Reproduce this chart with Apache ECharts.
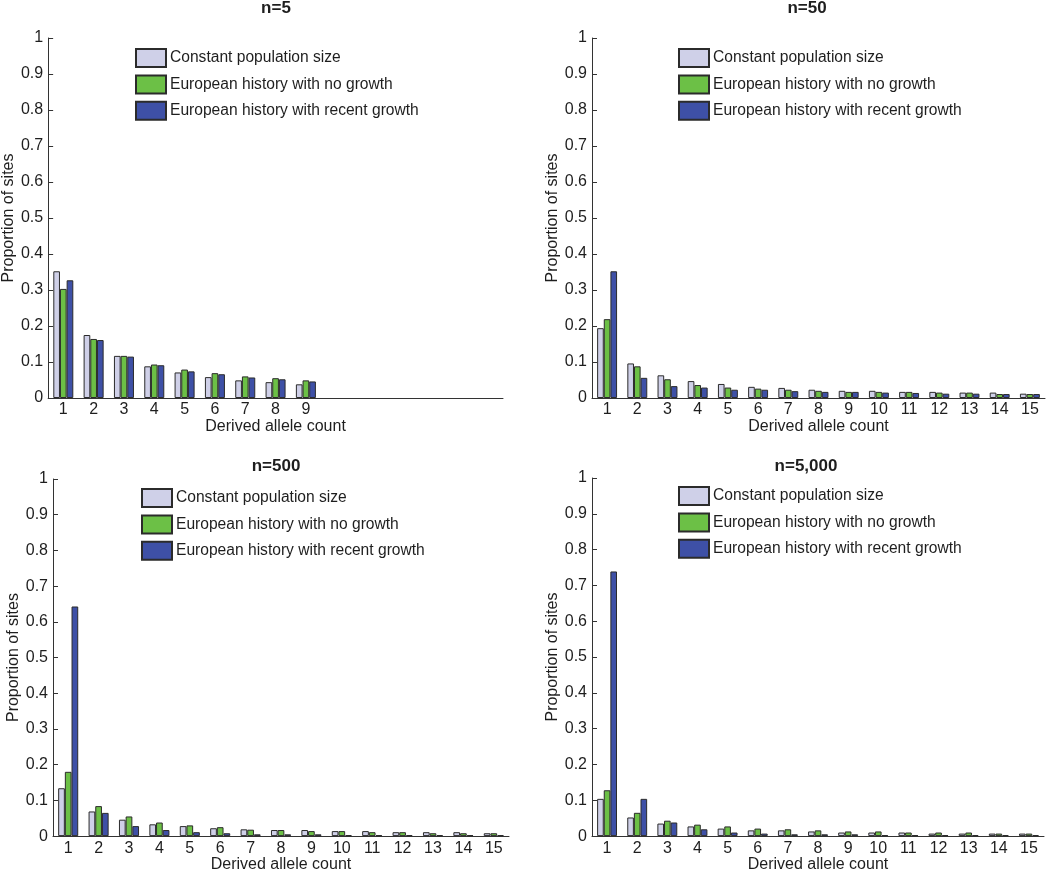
<!DOCTYPE html>
<html>
<head>
<meta charset="utf-8">
<script src="https://cdn.jsdelivr.net/npm/echarts@6/dist/echarts.min.js"></script>
<style>html,body{margin:0;padding:0;background:#fff;}#c{width:1050px;height:874px;}</style>
</head>
<body>
<div id="c"></div>
<script>
// ---- data ----
const categories = ['1','2','3','4','5','6','7','8','9','10','11','12','13','14','15'];
const seriesNames = ['Constant population size','European history with no growth','European history with recent growth'];
const panelTitles = ['n=5','n=50','n=500','n=5,000'];

const n5_constant = [0.352,0.175,0.117,0.088,0.071,0.058,0.049,0.044,0.038];
const n5_noGrowth = [0.303,0.164,0.117,0.093,0.079,0.069,0.060,0.055,0.049];
const n5_growth   = [0.327,0.161,0.115,0.091,0.074,0.066,0.057,0.052,0.046];

const n50_constant = [0.194,0.096,0.063,0.047,0.039,0.031,0.028,0.023,0.020,0.020,0.017,0.017,0.015,0.015,0.012];
const n50_noGrowth = [0.219,0.088,0.052,0.036,0.029,0.026,0.023,0.020,0.017,0.017,0.017,0.015,0.015,0.011,0.011];
const n50_growth   = [0.352,0.056,0.033,0.029,0.023,0.023,0.019,0.017,0.017,0.015,0.014,0.012,0.012,0.011,0.011];

const n500_constant = [0.134,0.069,0.046,0.033,0.028,0.022,0.019,0.017,0.017,0.014,0.014,0.011,0.011,0.011,0.008];
const n500_noGrowth = [0.180,0.084,0.055,0.038,0.030,0.025,0.018,0.017,0.014,0.014,0.011,0.011,0.008,0.008,0.008];
const n500_growth   = [0.643,0.065,0.028,0.017,0.011,0.008,0.005,0.005,0.005,0.003,0.003,0.003,0.003,0.003,0.003];

const n5000_constant = [0.104,0.052,0.035,0.027,0.021,0.016,0.016,0.013,0.010,0.010,0.010,0.007,0.007,0.007,0.007];
const n5000_noGrowth = [0.128,0.065,0.043,0.032,0.027,0.021,0.019,0.016,0.013,0.013,0.010,0.010,0.010,0.007,0.007];
const n5000_growth   = [0.739,0.104,0.038,0.019,0.010,0.007,0.005,0.005,0.005,0.003,0.003,0.003,0.003,0.003,0.003];

const panelData = [
  [n5_constant, n5_noGrowth, n5_growth],
  [n50_constant, n50_noGrowth, n50_growth],
  [n500_constant, n500_noGrowth, n500_growth],
  [n5000_constant, n5000_noGrowth, n5000_growth]
];

// ---- layout / style ----
const colors = ['#cfd0e8','#6cc046','#3e50a6'];
const FONT = '"Liberation Sans", Arial, sans-serif';
const TXT = '#1e1e1e';
const grids = [
  {left:47, top:38, width:456, height:360},
  {left:592, top:38, width:453, height:360},
  {left:53, top:479, width:456, height:360},
  {left:592, top:478, width:452, height:359}
];
const titlePos = [{x:276,y:0},{x:807,y:0},{x:276,y:458},{x:806,y:458}];
const legendPos = [{x:135,y:48},{x:678,y:48},{x:141,y:488},{x:678,y:486}];

const option = {
  backgroundColor:'#fff',
  animation:false,
  title: panelTitles.map((t,i)=>({
    text:t, left:titlePos[i].x, top:titlePos[i].y, textAlign:'center', padding:0,
    textStyle:{fontFamily:FONT,fontWeight:'bold',fontSize:17,color:TXT}
  })),
  legend: legendPos.map(p=>({
    data:seriesNames, orient:'vertical', left:p.x, top:p.y, padding:0,
    itemWidth:30, itemHeight:18, itemGap:6.4, icon:'rect',
    selectedMode:false,
    textStyle:{fontFamily:FONT,fontSize:15.6,color:TXT,padding:[0,0,0,-1]}
  })),
  grid: grids.map(g=>Object.assign({containLabel:false}, g)),
  xAxis: grids.map((g,i)=>({
    type:'category', gridIndex:i, data:categories,
    name:'Derived allele count', nameLocation:'middle', nameGap:19,
    nameTextStyle:{fontFamily:FONT,fontSize:16,color:TXT},
    axisLine:{lineStyle:{color:'#333',width:1}},
    axisTick:{show:false},
    axisLabel:{interval:0, margin:4, fontFamily:FONT, fontSize:16, color:TXT,
      formatter:(v,idx)=> idx < panelData[i][0].length ? v : ''}
  })),
  yAxis: grids.map((g,i)=>({
    type:'value', gridIndex:i, min:0, max:1, interval:0.1,
    name:'Proportion of sites', nameLocation:'middle', nameGap:30,
    nameTextStyle:{fontFamily:FONT,fontSize:16,color:TXT},
    axisLine:{show:true,lineStyle:{color:'#333',width:1}},
    axisTick:{show:true,inside:true,length:5,lineStyle:{color:'#333'}},
    splitLine:{show:false},
    axisLabel:{margin:5,fontFamily:FONT,fontSize:16,color:TXT}
  })),
  series: []
};

panelData.forEach((arrs,pi)=>{
  arrs.forEach((arr,si)=>{
    option.series.push({
      type:'bar', name:seriesNames[si], xAxisIndex:pi, yAxisIndex:pi,
      data:arr, barGap:'0%', barCategoryGap:'34%',
      itemStyle:{color:colors[si], borderColor:'#2b2b2b', borderWidth:1},
      emphasis:{disabled:true}
    });
  });
});

const chart = echarts.init(document.getElementById('c'), null, {renderer:'canvas'});
chart.setOption(option);
</script>
</body>
</html>
